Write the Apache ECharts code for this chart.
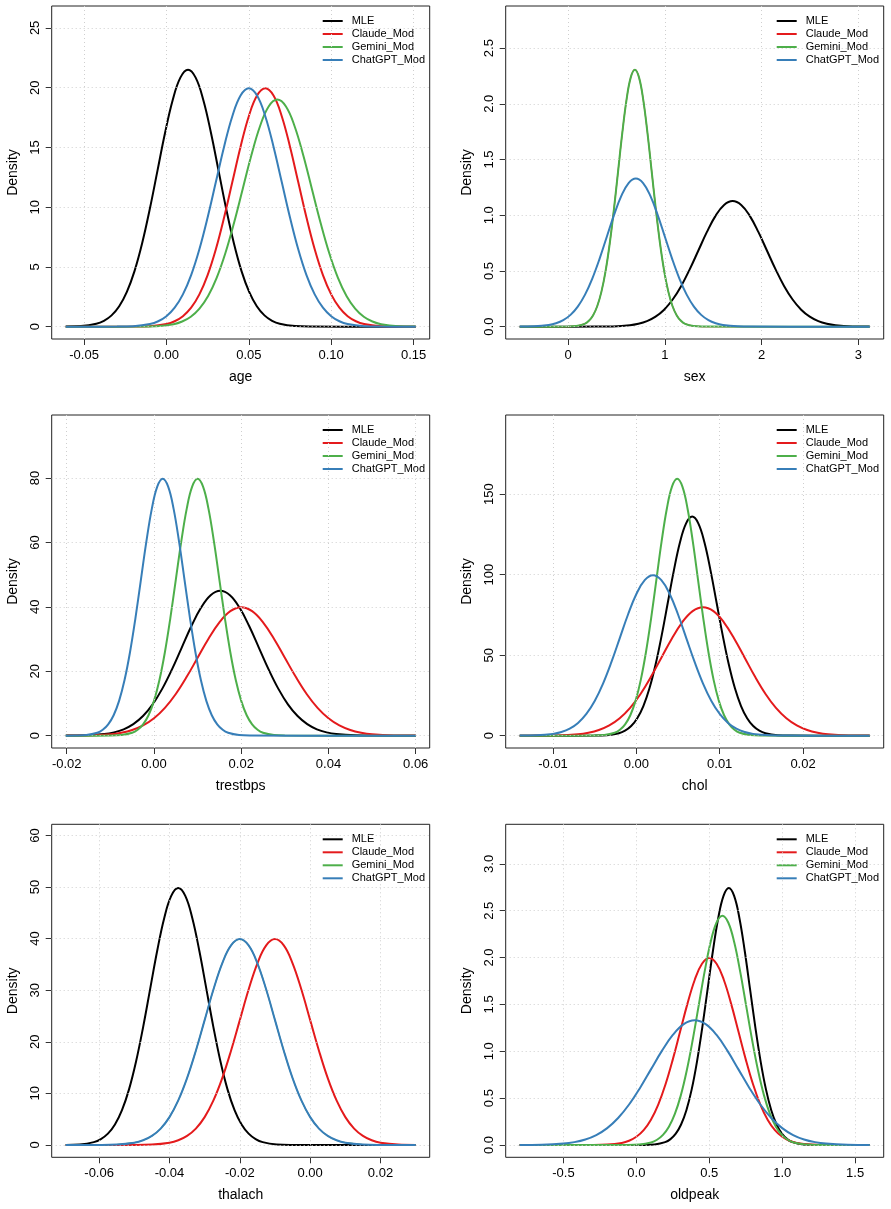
<!DOCTYPE html>
<html><head><meta charset="utf-8">
<script src="https://cdn.jsdelivr.net/npm/echarts@6/dist/echarts.min.js"></script>
<style>html,body{margin:0;padding:0;background:#fff}#c{width:891px;height:1209px}</style>
</head><body><div id="c"></div><script>
const seriesNames = ['MLE','Claude_Mod','Gemini_Mod','ChatGPT_Mod'];
const seriesColors = ['#000000','#E41A1C','#4DAF4A','#377EB8'];
const panelVars = ['age','sex','trestbps','chol','thalach','oldpeak'];

// ---- age ----
const age_MLE_x = [-0.06114,-0.05186,-0.04258,-0.03794,-0.0333,-0.02866,-0.02402,-0.01938,-0.01474,-0.0101,-0.00546,-0.00082,0.00382,0.00846,0.0131,0.01774,0.02238,0.02702,0.03166,0.0363,0.04094,0.04558,0.05022,0.05486,0.0595,0.06414,0.06878,0.07806,0.08734,0.1513];
const age_MLE_y = [0.0072,0.047,0.239,0.490,0.945,1.711,2.910,4.650,6.980,9.843,13.04,16.23,18.97,20.84,21.5,20.84,18.97,16.23,13.04,9.843,6.980,4.650,2.910,1.711,0.945,0.490,0.239,0.047,0.0072,0];
const age_Claude_x = [-0.0611,-0.02,-0.01,0,0.005,0.01,0.015,0.02,0.025,0.03,0.035,0.04,0.045,0.05,0.055,0.06,0.065,0.07,0.075,0.08,0.085,0.09,0.095,0.10,0.105,0.11,0.115,0.12,0.13,0.14,0.1513];
const age_Claude_y = [0,0.0067,0.0436,0.2216,0.4547,0.8766,1.587,2.700,4.315,6.477,9.134,12.10,15.06,17.61,19.34,19.95,19.34,17.61,15.06,12.10,9.134,6.477,4.315,2.700,1.587,0.8766,0.4547,0.2216,0.0436,0.0067,0];
const age_Gemini_x = [-0.0611,-0.0167,-0.0062,0.0043,0.00955,0.0148,0.02005,0.0253,0.03055,0.0358,0.04105,0.0463,0.05155,0.0568,0.06205,0.0673,0.07255,0.0778,0.08305,0.0883,0.09355,0.0988,0.10405,0.1093,0.11455,0.1198,0.12505,0.1303,0.1408,0.1513];
const age_Gemini_y = [0,0.0064,0.0416,0.2111,0.4330,0.8349,1.512,2.571,4.109,6.168,8.699,11.52,14.34,16.77,18.42,19.0,18.42,16.77,14.34,11.52,8.699,6.168,4.109,2.571,1.512,0.8349,0.4330,0.2111,0.0416,0.0064];
const age_ChatGPT_x = [-0.0611,-0.03,-0.02,-0.01,-0.005,0,0.005,0.01,0.015,0.02,0.025,0.03,0.035,0.04,0.045,0.05,0.055,0.06,0.065,0.07,0.075,0.08,0.085,0.09,0.095,0.10,0.105,0.11,0.12,0.13,0.1513];
const age_ChatGPT_y = [0,0.0067,0.0436,0.2216,0.4547,0.8766,1.587,2.700,4.315,6.477,9.134,12.10,15.06,17.61,19.34,19.95,19.34,17.61,15.06,12.10,9.134,6.477,4.315,2.700,1.587,0.8766,0.4547,0.2216,0.0436,0.0067,0];
const age_xTicks = [-0.05,0,0.05,0.1,0.15];
const age_xLabels = ['-0.05','0.00','0.05','0.10','0.15'];
const age_yTicks = [0,5,10,15,20,25];
const age_yLabels = ['0','5','10','15','20','25'];

// ---- sex ----
const sex_MLE_x = [-0.5,0.284,0.461,0.638,0.7265,0.815,0.9035,0.992,1.0805,1.169,1.2575,1.346,1.4345,1.523,1.6115,1.70,1.7885,1.877,1.9655,2.054,2.1425,2.231,2.3195,2.408,2.4965,2.585,2.6735,2.762,2.939,3.116];
const sex_MLE_y = [0,0.00038,0.00246,0.01252,0.02568,0.04952,0.08966,0.1525,0.2437,0.3659,0.5160,0.6836,0.8507,0.9946,1.0923,1.127,1.0923,0.9946,0.8507,0.6836,0.5160,0.3659,0.2437,0.1525,0.08966,0.04952,0.02568,0.01252,0.00246,0.00038];
const sex_Claude_x = [-0.5,-0.002,0.0845,0.171,0.21425,0.2575,0.30075,0.344,0.38725,0.4305,0.47375,0.517,0.56025,0.6035,0.64675,0.69,0.73325,0.7765,0.81975,0.863,0.90625,0.9495,0.99275,1.036,1.07925,1.1225,1.16575,1.209,1.2955,1.382,3.116];
const sex_Claude_y = [0,0.00077,0.00504,0.02562,0.05255,0.1013,0.1835,0.3121,0.4987,0.7486,1.0558,1.3987,1.7407,2.0350,2.2350,2.306,2.2350,2.0350,1.7407,1.3987,1.0558,0.7486,0.4987,0.3121,0.1835,0.1013,0.05255,0.02562,0.00504,0.00077,0];
const sex_Gemini_x = [-0.5,-0.002,0.0845,0.171,0.21425,0.2575,0.30075,0.344,0.38725,0.4305,0.47375,0.517,0.56025,0.6035,0.64675,0.69,0.73325,0.7765,0.81975,0.863,0.90625,0.9495,0.99275,1.036,1.07925,1.1225,1.16575,1.209,1.2955,1.382,3.116];
const sex_Gemini_y = [0,0.00077,0.00504,0.02562,0.05255,0.1013,0.1835,0.3121,0.4987,0.7486,1.0558,1.3987,1.7407,2.0350,2.2350,2.306,2.2350,2.0350,1.7407,1.3987,1.0558,0.7486,0.4987,0.3121,0.1835,0.1013,0.05255,0.02562,0.00504,0.00077,0];
const sex_ChatGPT_x = [-0.5,-0.35,-0.2,-0.125,-0.05,0.025,0.1,0.175,0.25,0.325,0.4,0.475,0.55,0.625,0.7,0.775,0.85,0.925,1.0,1.075,1.15,1.225,1.3,1.375,1.45,1.525,1.6,1.75,1.9,3.116];
const sex_ChatGPT_y = [0.00045,0.00291,0.01478,0.03031,0.05844,0.1058,0.1800,0.2876,0.4318,0.6089,0.8067,1.0039,1.1737,1.2891,1.33,1.2891,1.1737,1.0039,0.8067,0.6089,0.4318,0.2876,0.1800,0.1058,0.05844,0.03031,0.01478,0.00291,0.00045,0];
const sex_xTicks = [0,1,2,3];
const sex_xLabels = ['0','1','2','3'];
const sex_yTicks = [0,0.5,1,1.5,2,2.5];
const sex_yLabels = ['0.0','0.5','1.0','1.5','2.0','2.5'];

// ---- trestbps ----
const tre_MLE_x = [-0.02024,-0.01581,-0.01138,-0.009165,-0.00695,-0.004735,-0.00252,-0.000305,0.00191,0.004125,0.00634,0.008555,0.01077,0.012985,0.0152,0.017415,0.01963,0.021845,0.02406,0.026275,0.02849,0.030705,0.03292,0.035135,0.03735,0.039565,0.04178,0.04621,0.05064,0.06];
const tre_MLE_y = [0.0151,0.0984,0.5000,1.0256,1.977,3.580,6.090,9.732,14.61,20.60,27.29,33.97,39.71,43.62,45.0,43.62,39.71,33.97,27.29,20.60,14.61,9.732,6.090,3.580,1.977,1.0256,0.5000,0.0984,0.0151,0];
const tre_Claude_x = [-0.02,-0.015,-0.01,-0.0075,-0.005,-0.0025,0,0.0025,0.005,0.0075,0.01,0.0125,0.015,0.0175,0.02,0.0225,0.025,0.0275,0.03,0.0325,0.035,0.0375,0.04,0.0425,0.045,0.0475,0.05,0.055,0.06];
const tre_Claude_y = [0.0134,0.0873,0.4433,0.9093,1.753,3.174,5.400,8.629,12.95,18.27,24.20,30.12,35.21,38.67,39.9,38.67,35.21,30.12,24.20,18.27,12.95,8.629,5.400,3.174,1.753,0.9093,0.4433,0.0873,0.0134];
const tre_Gemini_x = [-0.0202,-0.01,-0.0075,-0.005,-0.00375,-0.0025,-0.00125,0,0.00125,0.0025,0.00375,0.005,0.00625,0.0075,0.00875,0.01,0.01125,0.0125,0.01375,0.015,0.01625,0.0175,0.01875,0.02,0.02125,0.0225,0.02375,0.025,0.0275,0.03,0.06];
const tre_Gemini_y = [0,0.0267,0.1745,0.8866,1.8186,3.506,6.349,10.80,17.26,25.91,36.53,48.40,60.24,70.42,77.34,79.8,77.34,70.42,60.24,48.40,36.53,25.91,17.26,10.80,6.349,3.506,1.8186,0.8866,0.1745,0.0267,0];
const tre_ChatGPT_x = [-0.0202,-0.018,-0.0155,-0.013,-0.01175,-0.0105,-0.00925,-0.008,-0.00675,-0.0055,-0.00425,-0.003,-0.00175,-0.0005,0.00075,0.002,0.00325,0.0045,0.00575,0.007,0.00825,0.0095,0.01075,0.012,0.01325,0.0145,0.01575,0.017,0.0195,0.022,0.06];
const tre_ChatGPT_y = [0,0.0267,0.1745,0.8866,1.8186,3.506,6.349,10.80,17.26,25.91,36.53,48.40,60.24,70.42,77.34,79.8,77.34,70.42,60.24,48.40,36.53,25.91,17.26,10.80,6.349,3.506,1.8186,0.8866,0.1745,0.0267,0];
const tre_xTicks = [-0.02,0,0.02,0.04,0.06];
const tre_xLabels = ['-0.02','0.00','0.02','0.04','0.06'];
const tre_yTicks = [0,20,40,60,80];
const tre_yLabels = ['0','20','40','60','80'];

// ---- chol ----
const chol_MLE_x = [-0.014,-0.00502,-0.003555,-0.00209,-0.0013575,-0.000625,0.0001075,0.00084,0.0015725,0.002305,0.0030375,0.00377,0.0045025,0.005235,0.0059675,0.0067,0.0074325,0.008165,0.0088975,0.00963,0.0103625,0.011095,0.0118275,0.01256,0.0132925,0.014025,0.0147575,0.01549,0.016955,0.01842,0.028];
const chol_MLE_y = [0,0.0456,0.2977,1.512,3.102,5.980,10.83,18.42,29.43,44.18,62.31,82.55,102.7,120.1,131.9,136.1,131.9,120.1,102.7,82.55,62.31,44.18,29.43,18.42,10.83,5.980,3.102,1.512,0.2977,0.0456,0];
const chol_Claude_x = [-0.014,-0.012,-0.0095,-0.007,-0.00575,-0.0045,-0.00325,-0.002,-0.00075,0.0005,0.00175,0.003,0.00425,0.0055,0.00675,0.008,0.00925,0.0105,0.01175,0.013,0.01425,0.0155,0.01675,0.018,0.01925,0.0205,0.02175,0.023,0.0255,0.028];
const chol_Claude_y = [0,0.0267,0.1745,0.8866,1.8186,3.506,6.349,10.80,17.26,25.91,36.53,48.40,60.24,70.42,77.34,79.8,77.34,70.42,60.24,48.40,36.53,25.91,17.26,10.80,6.349,3.506,1.8186,0.8866,0.1745,0.0267];
const chol_Gemini_x = [-0.014,-0.0051,-0.00385,-0.0026,-0.001975,-0.00135,-0.000725,-0.0001,0.000525,0.00115,0.001775,0.0024,0.003025,0.00365,0.004275,0.0049,0.005525,0.00615,0.006775,0.0074,0.008025,0.00865,0.009275,0.0099,0.010525,0.01115,0.011775,0.0124,0.01365,0.0149,0.028];
const chol_Gemini_y = [0,0.0535,0.349,1.773,3.637,7.013,12.70,21.60,34.52,51.81,73.07,96.80,120.5,140.8,154.7,159.6,154.7,140.8,120.5,96.80,73.07,51.81,34.52,21.60,12.70,7.013,3.637,1.773,0.349,0.0535,0];
const chol_ChatGPT_x = [-0.014,-0.012,-0.01,-0.009,-0.008,-0.007,-0.006,-0.005,-0.004,-0.003,-0.002,-0.001,0,0.001,0.002,0.003,0.004,0.005,0.006,0.007,0.008,0.009,0.01,0.011,0.012,0.013,0.014,0.016,0.018,0.028];
const chol_ChatGPT_y = [0.0334,0.218,1.108,2.272,4.381,7.932,13.49,21.56,32.37,45.65,60.47,75.26,87.99,96.63,99.7,96.63,87.99,75.26,60.47,45.65,32.37,21.56,13.49,7.932,4.381,2.272,1.108,0.218,0.0334,0];
const chol_xTicks = [-0.01,0,0.01,0.02];
const chol_xLabels = ['-0.01','0.00','0.01','0.02'];
const chol_yTicks = [0,50,100,150];
const chol_yLabels = ['0','50','100','150'];

// ---- thalach ----
const thal_MLE_x = [-0.0695,-0.0655,-0.0615,-0.0595,-0.0575,-0.0555,-0.0535,-0.0515,-0.0495,-0.0475,-0.0455,-0.0435,-0.0415,-0.0395,-0.0375,-0.0355,-0.0335,-0.0315,-0.0295,-0.0275,-0.0255,-0.0235,-0.0215,-0.0195,-0.0175,-0.0155,-0.0135,-0.0095,-0.0055,0.03];
const thal_MLE_y = [0.0167,0.109,0.5533,1.135,2.188,3.962,6.740,10.77,16.17,22.80,30.21,37.59,43.95,48.27,49.8,48.27,43.95,37.59,30.21,22.80,16.17,10.77,6.740,3.962,2.188,1.135,0.5533,0.109,0.0167,0];
const thal_Claude_x = [-0.0695,-0.05,-0.045,-0.04,-0.0375,-0.035,-0.0325,-0.03,-0.0275,-0.025,-0.0225,-0.02,-0.0175,-0.015,-0.0125,-0.01,-0.0075,-0.005,-0.0025,0,0.0025,0.005,0.0075,0.01,0.0125,0.015,0.0175,0.02,0.025,0.03];
const thal_Claude_y = [0,0.0134,0.0873,0.4433,0.9093,1.753,3.174,5.400,8.629,12.95,18.27,24.20,30.12,35.21,38.67,39.9,38.67,35.21,30.12,24.20,18.27,12.95,8.629,5.400,3.174,1.753,0.9093,0.4433,0.0873,0.0134];
const thal_Gemini_x = [-0.0695,-0.06,-0.055,-0.05,-0.0475,-0.045,-0.0425,-0.04,-0.0375,-0.035,-0.0325,-0.03,-0.0275,-0.025,-0.0225,-0.02,-0.0175,-0.015,-0.0125,-0.01,-0.0075,-0.005,-0.0025,0,0.0025,0.005,0.0075,0.01,0.015,0.02,0.03];
const thal_Gemini_y = [0,0.0134,0.0873,0.4433,0.9093,1.753,3.174,5.400,8.629,12.95,18.27,24.20,30.12,35.21,38.67,39.9,38.67,35.21,30.12,24.20,18.27,12.95,8.629,5.400,3.174,1.753,0.9093,0.4433,0.0873,0.0134,0];
const thal_ChatGPT_x = [-0.0695,-0.06,-0.055,-0.05,-0.0475,-0.045,-0.0425,-0.04,-0.0375,-0.035,-0.0325,-0.03,-0.0275,-0.025,-0.0225,-0.02,-0.0175,-0.015,-0.0125,-0.01,-0.0075,-0.005,-0.0025,0,0.0025,0.005,0.0075,0.01,0.015,0.02,0.03];
const thal_ChatGPT_y = [0,0.0134,0.0873,0.4433,0.9093,1.753,3.174,5.400,8.629,12.95,18.27,24.20,30.12,35.21,38.67,39.9,38.67,35.21,30.12,24.20,18.27,12.95,8.629,5.400,3.174,1.753,0.9093,0.4433,0.0873,0.0134,0];
const thal_xTicks = [-0.06,-0.04,-0.02,0,0.02];
const thal_xLabels = ['-0.06','-0.04','-0.02','0.00','0.02'];
const thal_yTicks = [0,10,20,30,40,50,60];
const thal_yLabels = ['0','10','20','30','40','50','60'];

// ---- oldpeak ----
const old_MLE_x = [-0.8,0.052,0.12475,0.1975,0.233875,0.27025,0.306625,0.343,0.379375,0.41575,0.452125,0.4885,0.524875,0.56125,0.597625,0.634,0.670375,0.70675,0.743125,0.7795,0.815875,0.85225,0.888625,0.925,0.961375,0.99775,1.034125,1.0705,1.14325,1.216,1.6];
const old_MLE_y = [0,0.00092,0.0060,0.03046,0.06249,0.1205,0.2182,0.3711,0.5930,0.8902,1.2554,1.6631,2.0698,2.4198,2.6576,2.742,2.6576,2.4198,2.0698,1.6631,1.2554,0.8902,0.5930,0.3711,0.2182,0.1205,0.06249,0.03046,0.0060,0.00092,0];
const old_Claude_x = [-0.8,-0.3,-0.2,-0.1,-0.05,0,0.05,0.1,0.15,0.2,0.25,0.3,0.35,0.4,0.45,0.5,0.55,0.6,0.65,0.7,0.75,0.8,0.85,0.9,0.95,1.0,1.05,1.1,1.2,1.3,1.6];
const old_Claude_y = [0,0.00067,0.00436,0.02216,0.04547,0.08766,0.1587,0.2700,0.4315,0.6477,0.9134,1.2100,1.5059,1.7606,1.9336,1.995,1.9336,1.7606,1.5059,1.2100,0.9134,0.6477,0.4315,0.2700,0.1587,0.08766,0.04547,0.02216,0.00436,0.00067,0];
const old_Gemini_x = [-0.8,-0.062,0.0195,0.101,0.14175,0.1825,0.22325,0.264,0.30475,0.3455,0.38625,0.427,0.46775,0.5085,0.54925,0.59,0.63075,0.6715,0.71225,0.753,0.79375,0.8345,0.87525,0.916,0.95675,0.9975,1.03825,1.079,1.1605,1.242,1.6];
const old_Gemini_y = [0,0.00082,0.00535,0.02719,0.05577,0.1075,0.1947,0.3312,0.5292,0.7944,1.1203,1.4842,1.8471,2.1595,2.3717,2.447,2.3717,2.1595,1.8471,1.4842,1.1203,0.7944,0.5292,0.3312,0.1947,0.1075,0.05577,0.02719,0.00535,0.00082,0];
const old_ChatGPT_x = [-0.8,-0.65,-0.5,-0.425,-0.35,-0.275,-0.2,-0.125,-0.05,0.025,0.1,0.175,0.25,0.325,0.4,0.475,0.55,0.625,0.7,0.775,0.85,0.925,1.0,1.075,1.15,1.225,1.3,1.45,1.6];
const old_ChatGPT_y = [0.00045,0.00291,0.01478,0.03031,0.05844,0.1058,0.1800,0.2876,0.4318,0.6089,0.8067,1.0039,1.1737,1.2891,1.33,1.2891,1.1737,1.0039,0.8067,0.6089,0.4318,0.2876,0.1800,0.1058,0.05844,0.03031,0.01478,0.00291,0.00045];
const old_xTicks = [-0.5,0,0.5,1,1.5];
const old_xLabels = ['-0.5','0.0','0.5','1.0','1.5'];
const old_yTicks = [0,0.5,1,1.5,2,2.5,3];
const old_yLabels = ['0.0','0.5','1.0','1.5','2.0','2.5','3.0'];

// ---- assemble ----
const panelCurves = [
  [[age_MLE_x,age_MLE_y],[age_Claude_x,age_Claude_y],[age_Gemini_x,age_Gemini_y],[age_ChatGPT_x,age_ChatGPT_y]],
  [[sex_MLE_x,sex_MLE_y],[sex_Claude_x,sex_Claude_y],[sex_Gemini_x,sex_Gemini_y],[sex_ChatGPT_x,sex_ChatGPT_y]],
  [[tre_MLE_x,tre_MLE_y],[tre_Claude_x,tre_Claude_y],[tre_Gemini_x,tre_Gemini_y],[tre_ChatGPT_x,tre_ChatGPT_y]],
  [[chol_MLE_x,chol_MLE_y],[chol_Claude_x,chol_Claude_y],[chol_Gemini_x,chol_Gemini_y],[chol_ChatGPT_x,chol_ChatGPT_y]],
  [[thal_MLE_x,thal_MLE_y],[thal_Claude_x,thal_Claude_y],[thal_Gemini_x,thal_Gemini_y],[thal_ChatGPT_x,thal_ChatGPT_y]],
  [[old_MLE_x,old_MLE_y],[old_Claude_x,old_Claude_y],[old_Gemini_x,old_Gemini_y],[old_ChatGPT_x,old_ChatGPT_y]]
];
const panelTicks = [
  [age_xTicks,age_xLabels,age_yTicks,age_yLabels],
  [sex_xTicks,sex_xLabels,sex_yTicks,sex_yLabels],
  [tre_xTicks,tre_xLabels,tre_yTicks,tre_yLabels],
  [chol_xTicks,chol_xLabels,chol_yTicks,chol_yLabels],
  [thal_xTicks,thal_xLabels,thal_yTicks,thal_yLabels],
  [old_xTicks,old_xLabels,old_yTicks,old_yLabels]
];

const FONT = '"Liberation Sans", Arial, Helvetica, sans-serif';
const colLeft = [51.7, 505.7];
const rowTop = [6, 415, 824.3];
const boxW = 378, boxH = 333;

function lookup(ticks, labels) {
  return function (v) {
    for (let i = 0; i < ticks.length; i++) if (Math.abs(ticks[i] - v) < 1e-9) return labels[i];
    return '';
  };
}
function sameCurve(a, b) {
  if (a[0].length !== b[0].length) return false;
  for (let i = 0; i < a[0].length; i++) if (a[0][i] !== b[0][i] || a[1][i] !== b[1][i]) return false;
  return true;
}

const grids = [], xAxes = [], yAxes = [], series = [], legends = [];
panelVars.forEach(function (name, p) {
  const col = p % 2, row = Math.floor(p / 2);
  const left = colLeft[col], top = rowTop[row];
  grids.push({ left: left, top: top, width: boxW, height: boxH, show: true,
    borderColor: '#222', borderWidth: 1, backgroundColor: 'transparent', containLabel: false });

  const curves = panelCurves[p];
  let xmin = Infinity, xmax = -Infinity, ymax = 0;
  curves.forEach(function (c) {
    c[0].forEach(function (v) { xmin = Math.min(xmin, v); xmax = Math.max(xmax, v); });
    c[1].forEach(function (v) { ymax = Math.max(ymax, v); });
  });
  const xr = xmax - xmin;
  const ylim = ymax * 1.2;
  const [xt, xl, yt, yl] = panelTicks[p];

  xAxes.push({
    type: 'value', gridIndex: p, min: xmin - 0.04 * xr, max: xmax + 0.04 * xr,
    name: name, nameLocation: 'middle', nameGap: 31,
    nameTextStyle: { fontFamily: FONT, fontSize: 14, color: '#000' },
    axisLine: { show: false, onZero: false },
    axisTick: { show: true, customValues: xt, length: 6, lineStyle: { color: '#333', width: 1 } },
    axisLabel: { customValues: xt, formatter: lookup(xt, xl), margin: 10, fontFamily: FONT, fontSize: 13, color: '#000', hideOverlap: false },
    splitLine: { show: false }
  });
  yAxes.push({
    type: 'value', gridIndex: p, min: -0.04 * ylim, max: 1.04 * ylim,
    name: 'Density', nameLocation: 'middle', nameGap: 32,
    nameTextStyle: { fontFamily: FONT, fontSize: 14, color: '#000' },
    axisLine: { show: false, onZero: false },
    axisTick: { show: true, customValues: yt, length: 6, lineStyle: { color: '#333', width: 1 } },
    axisLabel: { customValues: yt, formatter: lookup(yt, yl), rotate: 90, margin: 10, fontFamily: FONT, fontSize: 13, color: '#000', hideOverlap: false },
    splitLine: { show: false }
  });

  // grid lines (dotted light gray at tick positions)
  series.push({
    type: 'line', name: 'grid' + p, xAxisIndex: p, yAxisIndex: p, data: [], z: 1, silent: true,
    markLine: {
      silent: true, symbol: ['none', 'none'], animation: false, label: { show: false },
      lineStyle: { color: '#cfcfcf', type: [1, 3], width: 1 },
      emphasis: { disabled: true },
      data: xt.map(function (v) { return { xAxis: v }; }).concat(yt.map(function (v) { return { yAxis: v }; }))
    }
  });

  curves.forEach(function (c, k) {
    // a curve fully covered by a later identical one is drawn a little thinner so no fringe shows
    let covered = false;
    for (let j = k + 1; j < curves.length; j++) if (sameCurve(c, curves[j])) covered = true;
    series.push({
      type: 'line', name: seriesNames[k], xAxisIndex: p, yAxisIndex: p,
      data: c[0].map(function (x, i) { return [x, c[1][i]]; }),
      smooth: 0.4, symbol: 'none', z: 2 + k,
      lineStyle: { color: seriesColors[k], width: covered ? 1.2 : 2 },
      itemStyle: { color: seriesColors[k] },
      silent: true
    });
  });

  legends.push({
    orient: 'vertical', left: left + boxW - 107, top: top + 8.5,
    icon: 'rect', itemWidth: 20, itemHeight: 2, itemGap: 0, padding: 0,
    selectedMode: false, data: seriesNames,
    textStyle: { fontFamily: FONT, fontSize: 11, lineHeight: 13, color: '#000', padding: [0, 0, 0, 4] }
  });
});

const chart = echarts.init(document.getElementById('c'), null, { renderer: 'canvas' });
chart.setOption({
  animation: false,
  backgroundColor: '#fff',
  grid: grids, xAxis: xAxes, yAxis: yAxes, legend: legends, series: series
});
</script></body></html>
